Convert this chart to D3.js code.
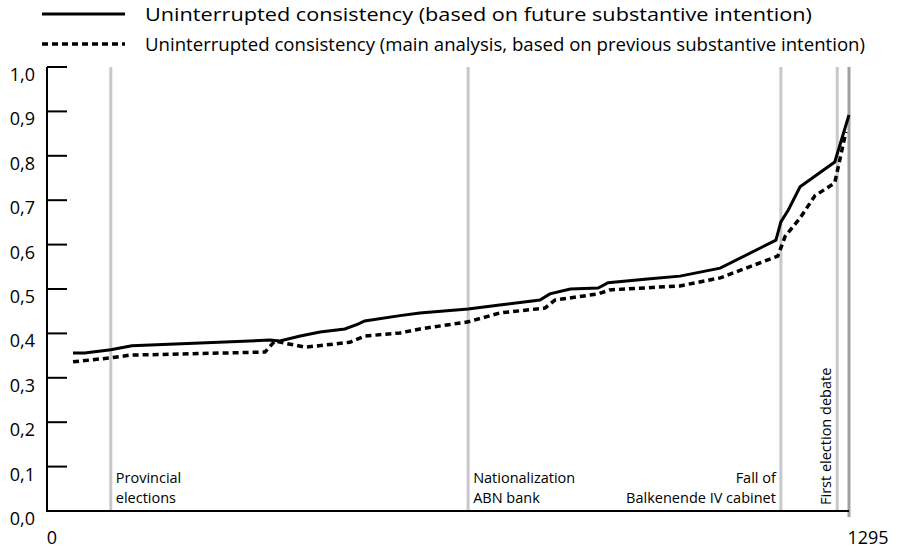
<!DOCTYPE html>
<html><head><meta charset="utf-8">
<script src="https://cdn.jsdelivr.net/npm/d3@7"></script>
<style>body{margin:0;background:#fff;font-family:"Open Sans",sans-serif;}</style>
</head><body><svg id="chart" width="899" height="552"></svg>
<script>
var futureX = [42,61,103,137,360,376,409,441,481,502,513,570,602,680,731,796,812,845,890,906,974,1022,1087,1177,1185,1197,1216,1272,1295];
var futureY = [0.356,0.356,0.363,0.372,0.385,0.383,0.394,0.403,0.41,0.421,0.428,0.44,0.446,0.455,0.464,0.475,0.489,0.5,0.502,0.514,0.523,0.529,0.547,0.61,0.651,0.678,0.73,0.786,0.892];
var previousX = [42,103,134,352,368,384,417,489,513,570,602,680,731,804,820,890,909,1022,1087,1180,1192,1216,1240,1272,1290];
var previousY = [0.336,0.345,0.351,0.358,0.383,0.378,0.369,0.38,0.394,0.401,0.41,0.426,0.446,0.457,0.475,0.489,0.498,0.507,0.525,0.574,0.619,0.66,0.71,0.739,0.854];
var events = [103,680,1185,1276];
var yTicks = [0,0.1,0.2,0.3,0.4,0.5,0.6,0.7,0.8,0.9,1.0];

var svg = d3.select('#chart');
var x = d3.scaleLinear().domain([0,1295]).range([47,849]);
var y = d3.scaleLinear().domain([0,1]).range([511,67]);

// event lines
svg.selectAll('.ev').data(events).enter().append('line')
  .attr('x1', function(d){return x(d);}).attr('x2', function(d){return x(d);})
  .attr('y1', 67).attr('y2', 511)
  .attr('stroke', '#c8c8c8').attr('stroke-width', 3);
svg.append('line').attr('x1', x(1295)).attr('x2', x(1295)).attr('y1', 67).attr('y2', 517)
  .attr('stroke', '#a0a0a0').attr('stroke-width', 3);

// axes
svg.append('line').attr('x1',47).attr('x2',47).attr('y1',67).attr('y2',512).attr('stroke','#000').attr('stroke-width',2);
svg.append('line').attr('x1',46).attr('x2',849).attr('y1',511).attr('y2',511).attr('stroke','#000').attr('stroke-width',2);
svg.selectAll('.tk').data(yTicks).enter().append('line')
  .attr('x1',47).attr('x2',67).attr('y1',function(d){return y(d);}).attr('y2',function(d){return y(d);})
  .attr('stroke','#000').attr('stroke-width',2);
svg.selectAll('.tl').data(yTicks).enter().append('text')
  .attr('x',35).attr('y',function(d){return y(d)+14;}).attr('text-anchor','end')
  .attr('font-size',18).text(function(d){return d3.format('.1f')(d).replace('.',',');});
svg.append('text').attr('x',52).attr('y',544).attr('text-anchor','middle').attr('font-size',18).text('0');
svg.append('text').attr('x',868).attr('y',544).attr('text-anchor','middle').attr('font-size',18).text('1295');

// event labels
function label(xp, lines, anchor) {
  var t = svg.append('text').attr('font-size',14.5).attr('text-anchor',anchor);
  lines.forEach(function(s,i){ t.append('tspan').attr('x',xp).attr('y',483+i*20).text(s); });
}
label(x(103)+5, ['Provincial','elections'], 'start');
label(x(680)+5, ['Nationalization','ABN bank'], 'start');
label(x(1185)-5, ['Fall of','Balkenende IV cabinet'], 'end');
svg.append('text').attr('font-size',14.5).attr('transform','translate('+(x(1276)-6)+',505) rotate(-90)').text('First election debate');

// series
var line = d3.line().x(function(d){return x(d[0]);}).y(function(d){return y(d[1]);});
svg.append('path').datum(d3.zip(previousX, previousY)).attr('d', line)
  .attr('fill','none').attr('stroke','#000').attr('stroke-width',3.5).attr('stroke-dasharray','6,4');
svg.append('path').datum(d3.zip(futureX, futureY)).attr('d', line)
  .attr('fill','none').attr('stroke','#000').attr('stroke-width',3);

// legend
svg.append('line').attr('x1',42).attr('x2',125).attr('y1',14).attr('y2',14).attr('stroke','#000').attr('stroke-width',3);
svg.append('line').attr('x1',42).attr('x2',125).attr('y1',44).attr('y2',44).attr('stroke','#000').attr('stroke-width',3.5).attr('stroke-dasharray','6,4');
svg.append('text').attr('x',145).attr('y',21).attr('font-size',18.3).attr('textLength',667).attr('lengthAdjust','spacingAndGlyphs').text('Uninterrupted consistency (based on future substantive intention)');
svg.append('text').attr('x',145).attr('y',51).attr('font-size',18.3).attr('textLength',720).attr('lengthAdjust','spacingAndGlyphs').text('Uninterrupted consistency (main analysis, based on previous substantive intention)');
</script></body></html>
